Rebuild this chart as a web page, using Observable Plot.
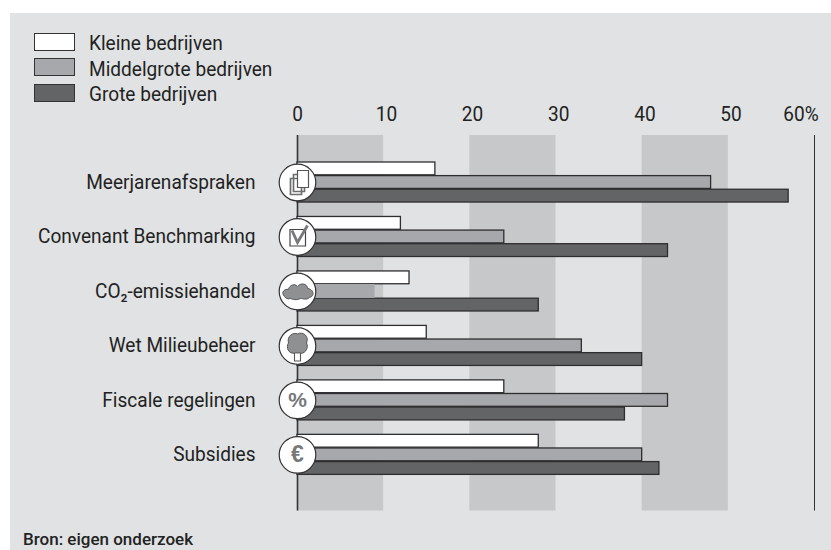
<!DOCTYPE html>
<html><head><meta charset="utf-8">
<script src="https://cdn.jsdelivr.net/npm/d3@7"></script>
<script src="https://cdn.jsdelivr.net/npm/@observablehq/plot@0.6"></script>
<style>
html,body{margin:0;padding:0;background:#fff}
#wrap{position:relative;width:831px;height:550px;overflow:hidden;font-family:Roboto,sans-serif}
#panel{position:absolute;left:10px;top:13px;right:0;bottom:0;background:#e1e2e4}
#chart{position:absolute;left:0;top:0}
#chart svg{background:transparent!important}
.sw{position:absolute;left:34px;width:41px;height:18px;box-sizing:border-box;border:1px solid #333}
.lb{position:absolute;left:89px;font-size:20px;line-height:24px;color:#222;white-space:nowrap;transform:scaleX(.953);transform-origin:0 50%}
#src{position:absolute;left:23px;top:530px;font:500 17px/18px Roboto,sans-serif;color:#222;white-space:nowrap}
</style></head><body>
<div id="wrap"><div id="panel"></div><div id="chart"></div><div id="src">Bron: eigen onderzoek</div></div>
<script>
const categories = ["Meerjarenafspraken","Convenant Benchmarking","CO₂-emissiehandel","Wet Milieubeheer","Fiscale regelingen","Subsidies"];
const series = ["Kleine bedrijven","Middelgrote bedrijven","Grote bedrijven"];
const kleine = [16,12,13,15,24,28];
const middel = [48,24,9,33,43,40];
const grote = [57,43,28,40,38,42];
const colors = ["#ffffff","#a7a8ab","#636466"];
const bandsFrom = [0,20,40];
const bandWidth = 10;
const iconNames = ["docs","check","cloud","tree","percent","euro"];

const key = (c,s) => c+"|"+s;
const rows = categories.flatMap((c,i)=>[kleine[i],middel[i],grote[i]].map((v,j)=>({category:c,series:series[j],value:v,key:key(c,series[j]),fill:colors[j]})));
const yDomain = categories.flatMap(c=>[...series.map(s=>key(c,s)),c+"|gap"]);
const midKey = c => key(c,series[1]);
const noOutline = d => d.category===categories[2] && d.series===series[1];

function sym(draw){return {draw(ctx){draw(ctx);}};}
const glyph = {
  docsBack: sym(c=>{
    c.moveTo(-7,-4);c.lineTo(-7,12);c.lineTo(4,12);c.lineTo(4,-4);c.closePath();
    c.moveTo(-4,-8);c.lineTo(-4,9);c.lineTo(7,9);c.lineTo(7,-8);c.closePath();
  }),
  docsFront: sym(c=>{c.moveTo(0,-12);c.lineTo(11,-12);c.lineTo(11,5);c.lineTo(0,5);c.closePath();}),
  box: sym(c=>{c.moveTo(-7.5,-7.5);c.lineTo(8,-7.5);c.lineTo(8,9);c.lineTo(-7.5,9);c.closePath();}),
  tick: sym(c=>{c.moveTo(-5.5,-6.5);c.lineTo(0,5.5);c.lineTo(10,-11.5);}),
  cloud: sym(c=>{
    c.moveTo(-13,5);c.bezierCurveTo(-17,1,-13,-3,-9,-2);c.bezierCurveTo(-8,-7,-2,-8,0,-5);c.bezierCurveTo(3,-9,10,-8,10,-3);c.bezierCurveTo(17,-2,17,5,12,6);c.bezierCurveTo(9,9,5,7,3,7);c.bezierCurveTo(-1,9,-5,8,-7,7);c.bezierCurveTo(-9,8,-12,7,-13,5);c.closePath();
  }),
  crown: sym(c=>{
    c.moveTo(-2,7);c.bezierCurveTo(-9,9,-12,1,-9,-3);c.bezierCurveTo(-11,-10,-4,-14,0,-12);c.bezierCurveTo(6,-15,12,-9,9,-3);c.bezierCurveTo(12,3,6,9,2,7);c.closePath();
  }),
  trunk: sym(c=>{c.moveTo(-3,5);c.lineTo(-3,15);c.lineTo(3,15);c.lineTo(3,5);c.closePath();})
};
const iconRows = categories.map((c,i)=>({key:midKey(c),icon:iconNames[i]}));
const drawn = n => iconRows.filter(d=>d.icon===n);
const at0 = {x:()=>0,y:"key"};
const axisFont = {tickSize:0,label:null,fontSize:20,fill:"#222"};

const chart = Plot.plot({
  width:831,height:550,
  marginTop:135,marginBottom:39.5,marginLeft:297,marginRight:17,
  style:{background:"transparent",fontFamily:"Roboto,sans-serif"},
  x:{domain:[0,60],axis:null},
  y:{type:"band",domain:yDomain,range:[162,488],paddingInner:0.06,paddingOuter:0,align:0,round:false,axis:null},
  marks:[
    Plot.barX(bandsFrom,{x1:d=>d,x2:d=>d+bandWidth,fill:"#c7c8ca"}),
    Plot.ruleX([0],{stroke:"#333",strokeWidth:1.6}),
    Plot.ruleX([60],{stroke:"#333",strokeWidth:1}),
    Plot.barX(rows.filter(d=>!noOutline(d)),{x:"value",y:"key",fill:d=>d.fill,stroke:"#2e2e30",strokeWidth:1.3}),
    Plot.barX(rows.filter(noOutline),{x:"value",y:"key",fill:d=>d.fill,insetTop:-0.6,insetBottom:-0.6}),
    Plot.axisX({...axisFont,anchor:"top",ticks:[0],tickPadding:15}),
    Plot.axisX({...axisFont,anchor:"top",ticks:[10,20,30,40,50],tickPadding:15,dx:2.7}),
    Plot.axisX({...axisFont,anchor:"top",ticks:[60],tickPadding:15,dx:-13.5,tickFormat:d=>d+"%"}),
    Plot.axisY({...axisFont,anchor:"left",ticks:categories.map(midKey),tickPadding:42,tickFormat:d=>d.split("|")[0]}),
    Plot.dot(iconRows,{...at0,r:18.3,fill:"#fff",stroke:"#333",strokeWidth:1.2}),
    Plot.dot(drawn("docs"),{...at0,symbol:glyph.docsBack,r:10,fill:"#fff",stroke:"#6d6e70",strokeWidth:1.7}),
    Plot.dot(drawn("docs"),{...at0,symbol:glyph.docsFront,r:10,fill:"#fff",stroke:"#555",strokeWidth:1.2}),
    Plot.dot(drawn("check"),{...at0,symbol:glyph.box,r:10,fill:"#fff",stroke:"#444",strokeWidth:1.2}),
    Plot.dot(drawn("check"),{...at0,symbol:glyph.tick,r:10,fill:"none",stroke:"#77787a",strokeWidth:2.8}),
    Plot.dot(drawn("cloud"),{...at0,symbol:glyph.cloud,r:10,fill:"#8f9092",stroke:"#555",strokeWidth:1}),
    Plot.dot(drawn("tree"),{...at0,symbol:glyph.trunk,r:10,fill:"#fff",stroke:"#555",strokeWidth:1.1}),
    Plot.dot(drawn("tree"),{...at0,symbol:glyph.crown,r:10,fill:"#8f9092",stroke:"#555",strokeWidth:1}),
    Plot.text(drawn("percent"),{...at0,text:()=>"%",fontSize:21,fontWeight:"bold",fill:"#77787a",fontFamily:"Liberation Sans"}),
    Plot.text(drawn("euro"),{...at0,text:()=>"€",fontSize:23,fontWeight:"bold",fill:"#77787a",fontFamily:"Liberation Sans"})
  ]
});
document.getElementById("chart").appendChild(chart);

// The reference face is condensed: tighten the axis labels to its set width.
chart.querySelectorAll('g[aria-label^="y-axis"] text, g[aria-label^="x-axis"] text').forEach(t=>{
  t.setAttribute("textLength",(t.getComputedTextLength()*0.953).toFixed(1));
  t.setAttribute("lengthAdjust","spacingAndGlyphs");
});

const wrap = document.getElementById("wrap");
series.forEach((s,i)=>{
  const sw=document.createElement("div");sw.className="sw";sw.style.top=(32.5+i*25.7)+"px";sw.style.background=colors[i];wrap.appendChild(sw);
  const lb=document.createElement("div");lb.className="lb";lb.style.top=(31+i*25.7)+"px";lb.textContent=s;wrap.appendChild(lb);
});
</script>
</body></html>
